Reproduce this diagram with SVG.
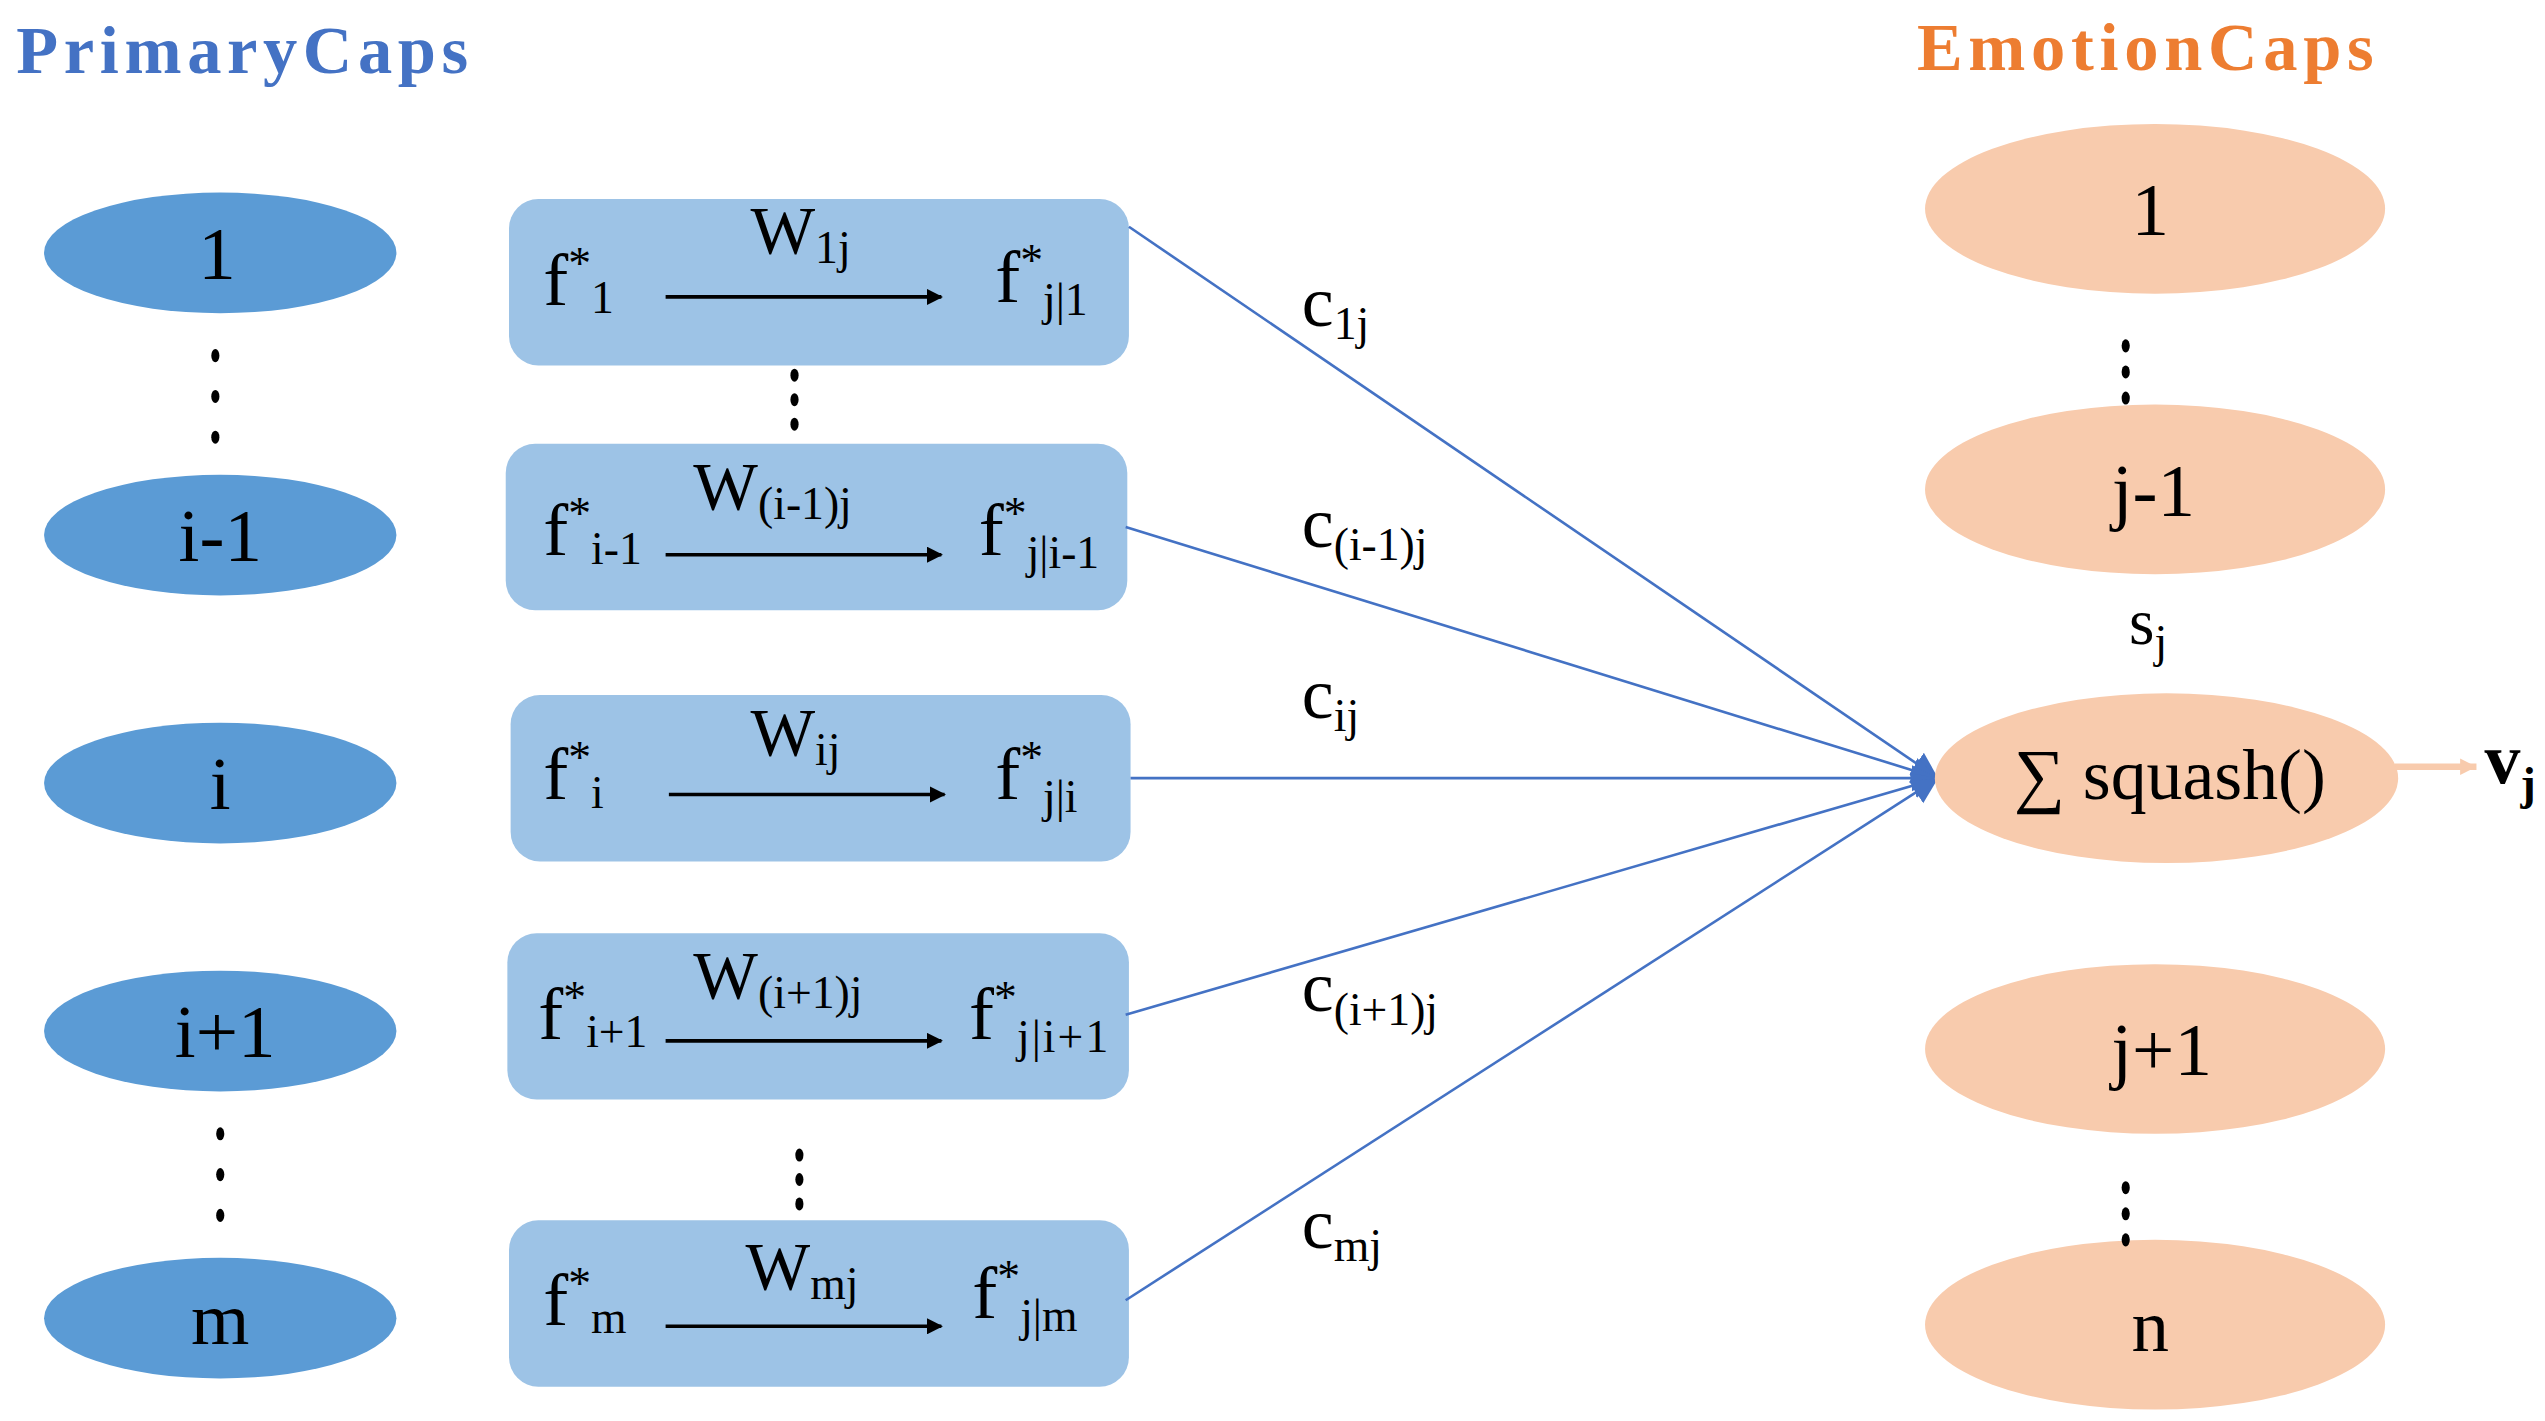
<svg xmlns="http://www.w3.org/2000/svg" width="2545" height="1421" viewBox="0 0 2545 1421">
<defs>
<style>
text{font-family:"Liberation Serif","Times New Roman",serif;fill:#000}
.pe{fill:#5B9BD5}.bx{fill:#9DC3E6}.oe{fill:#F8CBAD}
.big{font-size:46px}.f{font-size:46px}.sb{font-size:28px}.w{font-size:42px}.c{font-size:44px}
.ln{stroke:#4472C4;stroke-width:1.6;fill:none}
.ar{stroke:#000;stroke-width:2.2;fill:none}
.dot{fill:#000}
</style>
<marker id="ah" markerWidth="10" markerHeight="10" refX="9" refY="5" orient="auto" markerUnits="userSpaceOnUse" viewBox="0 0 10 10"><path d="M0,0 L10,5 L0,10z" fill="#000"/></marker>
<marker id="bh" viewBox="0 0 10 10" refX="10" refY="5" markerWidth="16" markerHeight="22" orient="auto" markerUnits="userSpaceOnUse"><path d="M0,0 L10,5 L0,10z" fill="#4472C4"/></marker>
<marker id="oh" viewBox="0 0 10 10" refX="10" refY="5" markerWidth="10" markerHeight="14" orient="auto" markerUnits="userSpaceOnUse"><path d="M0,0 L10,5 L0,10z" fill="#F8CBAD"/></marker>
</defs>
<g transform="scale(1.6314)">
<text x="10" y="45" textLength="277" style="font-size:42px;font-weight:bold;fill:#4472C4">PrimaryCaps</text>
<text x="1175" y="43" textLength="280" style="font-size:42px;font-weight:bold;fill:#ED7D31">EmotionCaps</text>

<g id="p1"><ellipse class="pe" cx="135" cy="155" rx="108" ry="37"/><text class="big" x="133" y="171" text-anchor="middle">1</text></g>
<g id="pi1"><ellipse class="pe" cx="135" cy="328" rx="108" ry="37"/><text class="big" x="135" y="344" text-anchor="middle">i-1</text></g>
<g id="pi"><ellipse class="pe" cx="135" cy="480" rx="108" ry="37"/><text class="big" x="135" y="496" text-anchor="middle">i</text></g>
<g id="pip1"><ellipse class="pe" cx="135" cy="632" rx="108" ry="37"/><text class="big" x="138" y="648" text-anchor="middle">i+1</text></g>
<g id="pm"><ellipse class="pe" cx="135" cy="808" rx="108" ry="37"/><text class="big" x="135" y="824" text-anchor="middle">m</text></g>
<g id="dotsL">
<ellipse class="dot" cx="132" cy="218" rx="2.5" ry="4"/><ellipse class="dot" cx="132" cy="243" rx="2.5" ry="4"/><ellipse class="dot" cx="132" cy="268" rx="2.5" ry="4"/>
<ellipse class="dot" cx="135" cy="695" rx="2.5" ry="4"/><ellipse class="dot" cx="135" cy="720" rx="2.5" ry="4"/><ellipse class="dot" cx="135" cy="745" rx="2.5" ry="4"/>
</g>

<g id="b1"><rect class="bx" x="312" y="122" width="380" height="102" rx="18"/>
<text class="f" x="333" y="187">f<tspan class="sb" dy="-16">*</tspan><tspan class="sb" dy="21">1</tspan></text>
<text class="w" x="460" y="155">W<tspan class="sb" dy="6">1j</tspan></text>
<line class="ar" x1="408" y1="182" x2="577" y2="182" marker-end="url(#ah)"/>
<text class="f" x="610" y="185">f<tspan class="sb" dy="-16">*</tspan><tspan class="sb" dy="24">j|1</tspan></text></g>

<g id="b2"><rect class="bx" x="310" y="272" width="381" height="102" rx="18"/>
<text class="f" x="333" y="340">f<tspan class="sb" dy="-16">*</tspan><tspan class="sb" dy="22">i-1</tspan></text>
<text class="w" x="425" y="312">W<tspan class="sb" dy="6">(i-1)j</tspan></text>
<line class="ar" x1="408" y1="340" x2="577" y2="340" marker-end="url(#ah)"/>
<text class="f" x="600" y="340">f<tspan class="sb" dy="-16">*</tspan><tspan class="sb" dy="24">j|i-1</tspan></text></g>

<g id="b3"><rect class="bx" x="313" y="426" width="380" height="102" rx="18"/>
<text class="f" x="333" y="490">f<tspan class="sb" dy="-16">*</tspan><tspan class="sb" dy="21">i</tspan></text>
<text class="w" x="460" y="463">W<tspan class="sb" dy="6">ij</tspan></text>
<line class="ar" x1="410" y1="487" x2="579" y2="487" marker-end="url(#ah)"/>
<text class="f" x="610" y="490">f<tspan class="sb" dy="-16">*</tspan><tspan class="sb" dy="24">j|i</tspan></text></g>

<g id="b4"><rect class="bx" x="311" y="572" width="381" height="102" rx="18"/>
<text class="f" x="330" y="637">f<tspan class="sb" dy="-16">*</tspan><tspan class="sb" dy="21">i+1</tspan></text>
<text class="w" x="425" y="612">W<tspan class="sb" dy="6">(i+1)j</tspan></text>
<line class="ar" x1="408" y1="638" x2="577" y2="638" marker-end="url(#ah)"/>
<text class="f" x="594" y="637">f<tspan class="sb" dy="-16">*</tspan><tspan class="sb" dy="24" textLength="56">j|i+1</tspan></text></g>

<g id="b5"><rect class="bx" x="312" y="748" width="380" height="102" rx="18"/>
<text class="f" x="333" y="812">f<tspan class="sb" dy="-16">*</tspan><tspan class="sb" dy="21">m</tspan></text>
<text class="w" x="457" y="790">W<tspan class="sb" dy="6">mj</tspan></text>
<line class="ar" x1="408" y1="813" x2="577" y2="813" marker-end="url(#ah)"/>
<text class="f" x="596" y="808">f<tspan class="sb" dy="-16">*</tspan><tspan class="sb" dy="24">j|m</tspan></text></g>

<g id="dotsM">
<ellipse class="dot" cx="487" cy="230" rx="2.5" ry="4"/><ellipse class="dot" cx="487" cy="245" rx="2.5" ry="4"/><ellipse class="dot" cx="487" cy="260" rx="2.5" ry="4"/>
<ellipse class="dot" cx="490" cy="708" rx="2.5" ry="4"/><ellipse class="dot" cx="490" cy="723" rx="2.5" ry="4"/><ellipse class="dot" cx="490" cy="738" rx="2.5" ry="4"/>
</g>

<g id="connectors">
<line class="ln" x1="692" y1="139" x2="1188" y2="477" marker-end="url(#bh)"/>
<line class="ln" x1="690" y1="323" x2="1188" y2="477" marker-end="url(#bh)"/>
<line class="ln" x1="693" y1="477" x2="1188" y2="477" marker-end="url(#bh)"/>
<line class="ln" x1="690" y1="622" x2="1188" y2="477" marker-end="url(#bh)"/>
<line class="ln" x1="690" y1="797" x2="1188" y2="477" marker-end="url(#bh)"/>
<line x1="1468" y1="470" x2="1518" y2="470" stroke="#F8CBAD" stroke-width="4" marker-end="url(#oh)"/>
</g>
<g id="clabels">
<text class="c" x="798" y="200">c<tspan class="sb" dy="8">1j</tspan></text>
<text class="c" x="798" y="335">c<tspan class="sb" dy="8">(i-1)j</tspan></text>
<text class="c" x="798" y="440">c<tspan class="sb" dy="8">ij</tspan></text>
<text class="c" x="798" y="620">c<tspan class="sb" dy="8">(i+1)j</tspan></text>
<text class="c" x="798" y="765">c<tspan class="sb" dy="8">mj</tspan></text>
</g>

<g id="e1"><ellipse class="oe" cx="1321" cy="128" rx="141" ry="52"/><text class="big" x="1318" y="144" text-anchor="middle">1</text></g>
<g id="ej1"><ellipse class="oe" cx="1321" cy="300" rx="141" ry="52"/><text class="big" x="1320" y="316" text-anchor="middle">j-1</text></g>
<g id="esum"><ellipse class="oe" cx="1328" cy="477" rx="142" ry="52"/><text x="1330" y="490" text-anchor="middle" style="font-size:44px">∑ squash()</text></g>
<g id="ej2"><ellipse class="oe" cx="1321" cy="643" rx="141" ry="52"/><text class="big" x="1325" y="659" text-anchor="middle">j+1</text></g>
<g id="en"><ellipse class="oe" cx="1321" cy="812" rx="141" ry="52"/><text class="big" x="1318" y="828" text-anchor="middle">n</text></g>
<g id="dotsR">
<ellipse class="dot" cx="1303" cy="212" rx="2.5" ry="4"/><ellipse class="dot" cx="1303" cy="228" rx="2.5" ry="4"/><ellipse class="dot" cx="1303" cy="244" rx="2.5" ry="4"/>
<ellipse class="dot" cx="1303" cy="728" rx="2.5" ry="4"/><ellipse class="dot" cx="1303" cy="744" rx="2.5" ry="4"/><ellipse class="dot" cx="1303" cy="760" rx="2.5" ry="4"/>
</g>
<text x="1305" y="395" style="font-size:40px">s<tspan class="sb" dy="8">j</tspan></text>
<text x="1523" y="480" style="font-size:44px;font-weight:bold">v<tspan class="sb" dy="10">j</tspan></text>
</g>
</svg>
